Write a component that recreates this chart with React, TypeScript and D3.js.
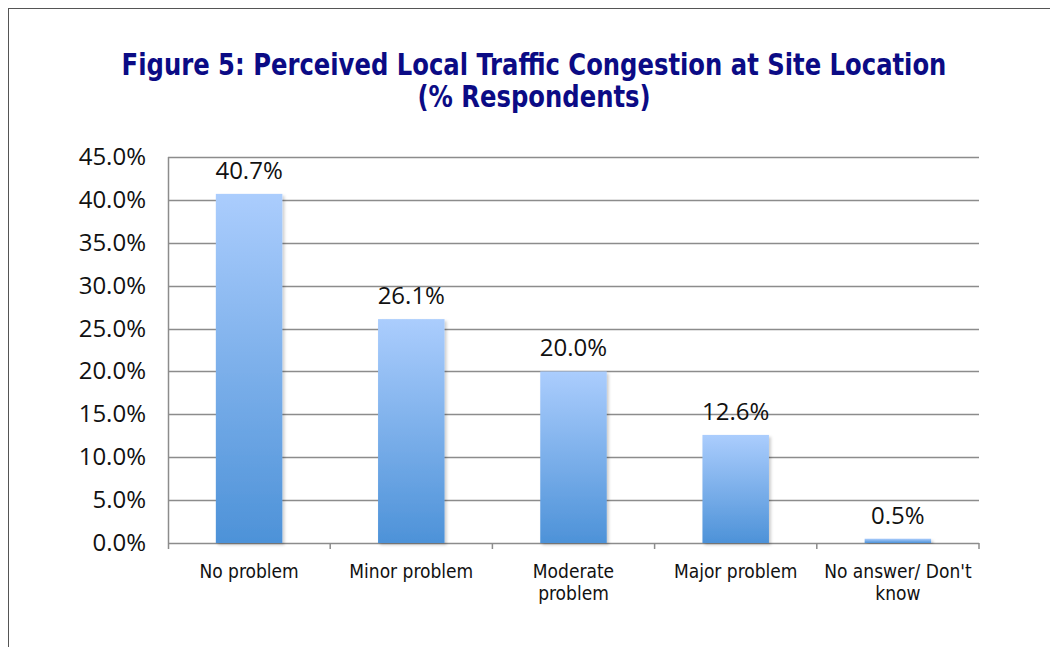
import React from "react";
import * as d3 from "d3";

const categories = ["No problem", "Minor problem", "Moderate problem", "Major problem", "No answer/ Don't know"];
const categoryLines = [["No problem"], ["Minor problem"], ["Moderate", "problem"], ["Major problem"], ["No answer/ Don't", "know"]];
const values = [40.7, 26.1, 20.0, 12.6, 0.5];
const yTicks = [0, 5, 10, 15, 20, 25, 30, 35, 40, 45];

export default function App() {
  const W = 1050, H = 647;
  const left = 168, right = 979, top = 157, bottom = 543;
  const x = d3.scaleBand<string>().domain(categories).range([left, right]).paddingInner(0.59).paddingOuter(0.295);
  const xOuter = d3.scaleBand<string>().domain(categories).range([left, right]);
  const y = d3.scaleLinear().domain([0, 45]).range([bottom, top]);
  const tickFont = "'Open Sans', 'DejaVu Sans', sans-serif";
  const catFont = "'Liberation Sans Narrow', 'DejaVu Sans Condensed', 'Roboto', sans-serif";
  return (
    <svg width={W} height={H} style={{ position: "absolute", left: 0, top: 0 }}>
      <defs>
        <linearGradient id="barGrad" x1="0" y1="0" x2="0" y2="1">
          <stop offset="0%" stopColor="#abcdfd" />
          <stop offset="100%" stopColor="#4d92d8" />
        </linearGradient>
        <filter id="shadow" x="-10%" y="-10%" width="130%" height="130%">
          <feDropShadow dx="2" dy="2" stdDeviation="1.5" floodColor="#000" floodOpacity="0.2" />
        </filter>
      </defs>
      <rect x={0} y={0} width={W} height={H} fill="#fff" />
      <line x1={8.5} y1={8} x2={8.5} y2={H} stroke="#555" strokeWidth={1} />
      <line x1={8} y1={8.5} x2={W} y2={8.5} stroke="#555" strokeWidth={1} />
      <g transform="translate(534,0) scale(1.0,1.1)">
        <text x={0} y={68} textAnchor="middle" fill="#0b0b85" fontFamily="'DejaVu Sans Condensed', 'DejaVu Sans', sans-serif" fontWeight="bold" fontSize={27}>
          Figure 5: Perceived Local Traffic Congestion at Site Location
        </text>
        <text x={0} y={97} textAnchor="middle" fill="#0b0b85" fontFamily="'DejaVu Sans Condensed', 'DejaVu Sans', sans-serif" fontWeight="bold" fontSize={27}>
          (% Respondents)
        </text>
      </g>
      {yTicks.map((t) => (
        <g key={t}>
          <line x1={left} x2={right} y1={Math.round(y(t)) + 0.5} y2={Math.round(y(t)) + 0.5} stroke="#8c8c8c" strokeWidth={1.5} />
          <text x={146} y={y(t) + 8} textAnchor="end" fontFamily={tickFont} fontSize={24} fill="#111">
            {t.toFixed(1)}%
          </text>
        </g>
      ))}
      <line x1={left + 0.5} x2={left + 0.5} y1={top} y2={bottom + 6} stroke="#8c8c8c" strokeWidth={1.5} />
      {categories.map((c) => (
        <line key={c} x1={(xOuter(c) as number) + xOuter.bandwidth()} x2={(xOuter(c) as number) + xOuter.bandwidth()} y1={bottom} y2={bottom + 6} stroke="#8c8c8c" strokeWidth={1.5} />
      ))}
      {categories.map((c, i) => (
        <g key={c}>
          <rect x={x(c)} y={y(values[i])} width={x.bandwidth()} height={bottom - y(values[i])} fill="url(#barGrad)" filter="url(#shadow)" />
          <text x={(x(c) as number) + x.bandwidth() / 2} y={y(values[i]) - 15} textAnchor="middle" fontFamily={tickFont} fontSize={24} fill="#111">
            {values[i].toFixed(1)}%
          </text>
          {categoryLines[i].map((ln, j) => (
            <text key={j} x={(xOuter(c) as number) + xOuter.bandwidth() / 2} y={578 + j * 22} textAnchor="middle" fontFamily={catFont} fontSize={19} fill="#111">
              {ln}
            </text>
          ))}
        </g>
      ))}
    </svg>
  );
}
